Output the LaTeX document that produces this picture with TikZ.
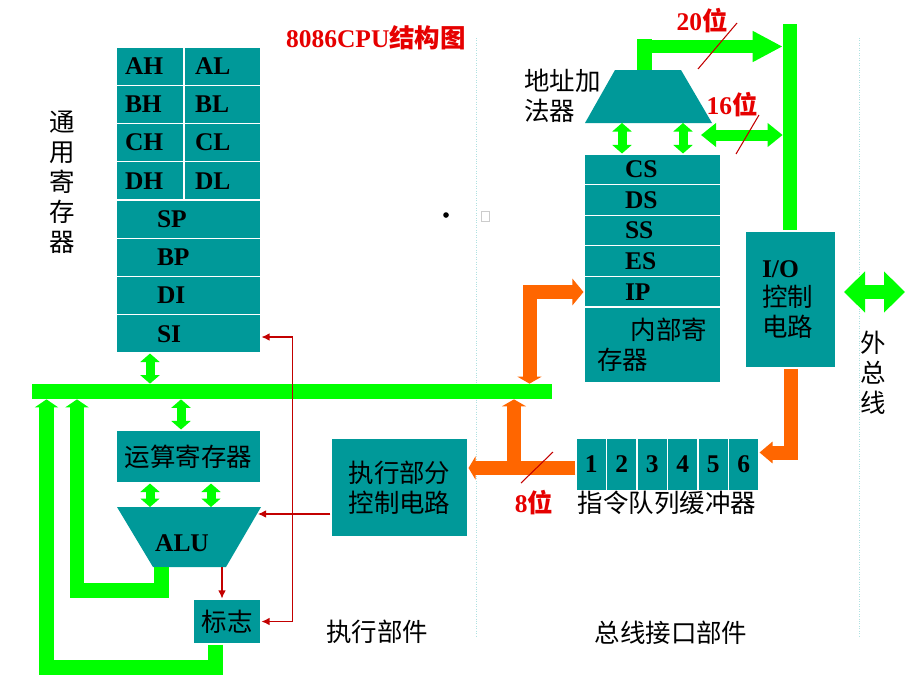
\documentclass[tikz,border=0pt]{standalone}
\usepackage{fontspec}
\setmainfont{Liberation Serif}
\newfontfamily\cjk{Noto Sans CJK SC}
\usetikzlibrary{arrows.meta}
\definecolor{tealbox}{RGB}{0,153,153}
\definecolor{busgreen}{RGB}{0,255,0}
\definecolor{busorange}{RGB}{255,102,0}
\definecolor{markred}{RGB}{230,0,0}
\definecolor{sepline}{RGB}{175,225,225}
\newcommand\picsize{\fontsize{14.5}{17}\selectfont}

\tikzset{
  box/.style={rectangle, fill=tealbox, draw=white, line width=0.6pt, inner sep=0pt},
  reg/.style={box, minimum height=0.765cm, align=left, font=\bfseries\picsize},
  seg/.style={box, minimum height=0.612cm, text width=1.10cm, inner xsep=0.82cm, align=left, font=\bfseries\picsize},
  zh/.style={font=\cjk\picsize, align=center},
  lab/.style={text=markred, font=\bfseries\picsize},
  solid bar/.style={fill=busgreen, inner sep=0pt},
  gbar/.style={draw=busgreen, line width=0.3cm, -{Triangle[length=0.16cm,width=0.46cm]}},
  gtwin/.style={draw=busgreen, line width=0.18cm, {Triangle[length=0.17cm,width=0.38cm]}-{Triangle[length=0.17cm,width=0.38cm]}},
  obar/.style={draw=busorange, line width=0.28cm},
  rline/.style={draw=markred!85!black, line width=0.6pt},
  rtip/.style={-{Latex[length=0.16cm,width=0.15cm]}}
}

\begin{document}
\begin{tikzpicture}[x=0.02cm, y=-0.02cm]
\fill[white] (0,0) rectangle (920,690);
\useasboundingbox (0,0) rectangle (920,690);

\draw[sepline, densely dotted] (476,38) -- (476,637);
\draw[sepline, densely dotted] (859,38) -- (859,637);

\node[lab] (title) at (376,38) {8086CPU{\cjk 结构图}};
\node[zh] (gpr) at (62,182) {通\\用\\寄\\存\\器};

\foreach \l/\r [count=\i from 0] in {AH/AL,BH/BL,CH/CL,DH/DL}{
  \node[reg, text width=1.0cm, inner xsep=0.18cm] (\l) at (150,66.125+38.25*\i) {\l};
  \node[reg, text width=1.1cm, inner xsep=0.22cm] (\r) at (222.5,66.125+38.25*\i) {\r};
}
\foreach \l [count=\i from 4] in {SP,BP,DI,SI}
  \node[reg, text width=1.26cm, inner xsep=0.82cm] (\l) at (188.5,66.125+38.25*\i) {\l};

\node[solid bar, minimum width=10.4cm, minimum height=0.3cm] (bus) at (292,391.5) {};
\node[box, minimum width=2.9cm, minimum height=1.06cm, font=\cjk\picsize] (opreg) at (188.5,456.5) {运算寄存器};
\fill[tealbox] (117,507) -- (261,507) -- (226,567) -- (153,567) -- cycle;
\node[font=\bfseries\picsize] (alu) at (182,543) {ALU};
\coordinate (alurim) at (258,514);
\coordinate (aluout) at (161,567);
\node[box, minimum width=1.36cm, minimum height=0.9cm, font=\cjk\picsize] (flag) at (227,621.5) {标志};
\node[box, minimum width=2.74cm, minimum height=1.98cm, zh] (ctrl) at (399.5,487.5) {执行部分\\控制电路};

\draw[gtwin] (SI.south -| 150,0) -- (bus.north -| 150,0);
\draw[gtwin] (bus.south -| 181,0) -- (opreg.north -| 181,0);
\draw[gtwin] (opreg.south -| 150,0) -- (150,507);
\draw[gtwin] (opreg.south -| 211,0) -- (211,507);
\draw[gbar] (aluout) -- (161,590.5) -- (77,590.5) -- (bus.south -| 77,0);
\draw[gbar] (flag.south -| 215,0) -- (215,667.5) -- (46.5,667.5) -- (bus.south -| 46.5,0);

\draw[rline, rtip] (SI.east |- 0,337) ++(31,0) coordinate (rtop) -- (SI.east |- 0,337);
\draw[rline, rtip] (rtop) |- (flag.east);
\draw[rline, rtip] (ctrl.west |- alurim) -- (alurim);
\draw[rline, rtip] (222,567) -- (flag.north -| 222,0);

\fill[tealbox] (615,70) -- (681,70) -- (712,123) -- (585,123) -- cycle;
\node[zh, align=left, anchor=west, inner sep=0pt] (addlabel) at (524,95.5) {地址加\\法器};
\node[solid bar, minimum width=0.3cm, minimum height=0.62cm] (addout) at (644.5,54.5) {};
\node[solid bar, minimum width=0.28cm, minimum height=4.12cm] (abus) at (790,127) {};

\foreach \l [count=\i from 0] in {CS,DS,SS,ES,IP}
  \node[seg] (\l) at (652.5,169.3+30.6*\i) {\l};
\node[box, text width=2.2cm, inner xsep=0.27cm, minimum height=1.52cm, zh, align=left] (inreg) at (652.5,345) {\hspace{1.3em}内部寄\\存器};

\node[box, minimum height=2.74cm, text width=1.14cm, inner xsep=0.34cm, align=left, font=\cjk\picsize] (io) at (790.5,299.5) {{\rmfamily\bfseries I/O}\\控制\\电路};
\node[zh] (extbus) at (873,373) {外\\总\\线};

\foreach \n [count=\i from 0] in {1,...,6}
  \node[box, minimum width=0.61cm, minimum height=1.06cm, font=\bfseries\picsize] (q\n) at (591.25+30.5*\i,464.5) {\n};
\node[zh] (qlabel) at (667,503) {指令队列缓冲器};

\draw[draw=busgreen, line width=0.26cm, -{Triangle[length=0.6cm,width=0.58cm]}] (addout.east |- 0,46.5) -- (abus.west |- 0,46.5);
\draw[gtwin] (622,123) -- (CS.north -| 622,0);
\draw[gtwin] (683,123) -- (CS.north -| 683,0);
\coordinate (w16end) at (701,135);
\draw[draw=busgreen, line width=0.22cm, {Triangle[length=0.3cm,width=0.46cm]}-{Triangle[length=0.3cm,width=0.46cm]}] (w16end) -- (abus.west |- w16end);
\coordinate (extl) at (844,292);
\coordinate (extr) at (905,292);
\draw[draw=busgreen, line width=0.28cm, {Triangle[length=0.42cm,width=0.8cm]}-{Triangle[length=0.42cm,width=0.8cm]}] (extl) -- (extr);

\draw[obar, -{Triangle[length=0.26cm,width=0.42cm]}] (io.south) -- (io.south |- 0,452.5) -- (q6.east |- 0,452.5);
\draw[obar, -{Triangle[length=0.14cm,width=0.46cm]}] (q1.west |- 0,468) -- (ctrl.east |- 0,468);
\draw[obar, -{Triangle[length=0.14cm,width=0.48cm]}] (514,468) -- (bus.south -| 514,0);
\draw[obar, {Triangle[length=0.14cm,width=0.48cm]}-{Triangle[length=0.22cm,width=0.52cm]}] (bus.north -| 529.5,0) -- (529.5,292) -- (IP.west |- 0,292);

\draw[rline] (698,69) -- (737,23);
\draw[rline] (736,154) -- (759,115);
\draw[rline] (521,483) -- (553,452);
\node[lab] (w20) at (702,21) {20{\cjk 位}};
\node[lab] (w16) at (732,105) {16{\cjk 位}};
\node[lab] (w8) at (534,503) {8{\cjk 位}};

\node[zh] (eu) at (377,632) {执行部件};
\node[zh] (biu) at (671,633) {总线接口部件};

\fill (446,215) circle[radius=1.6pt];
\draw[gray!40] (481,211) rectangle (489,221);
\end{tikzpicture}
\end{document}
